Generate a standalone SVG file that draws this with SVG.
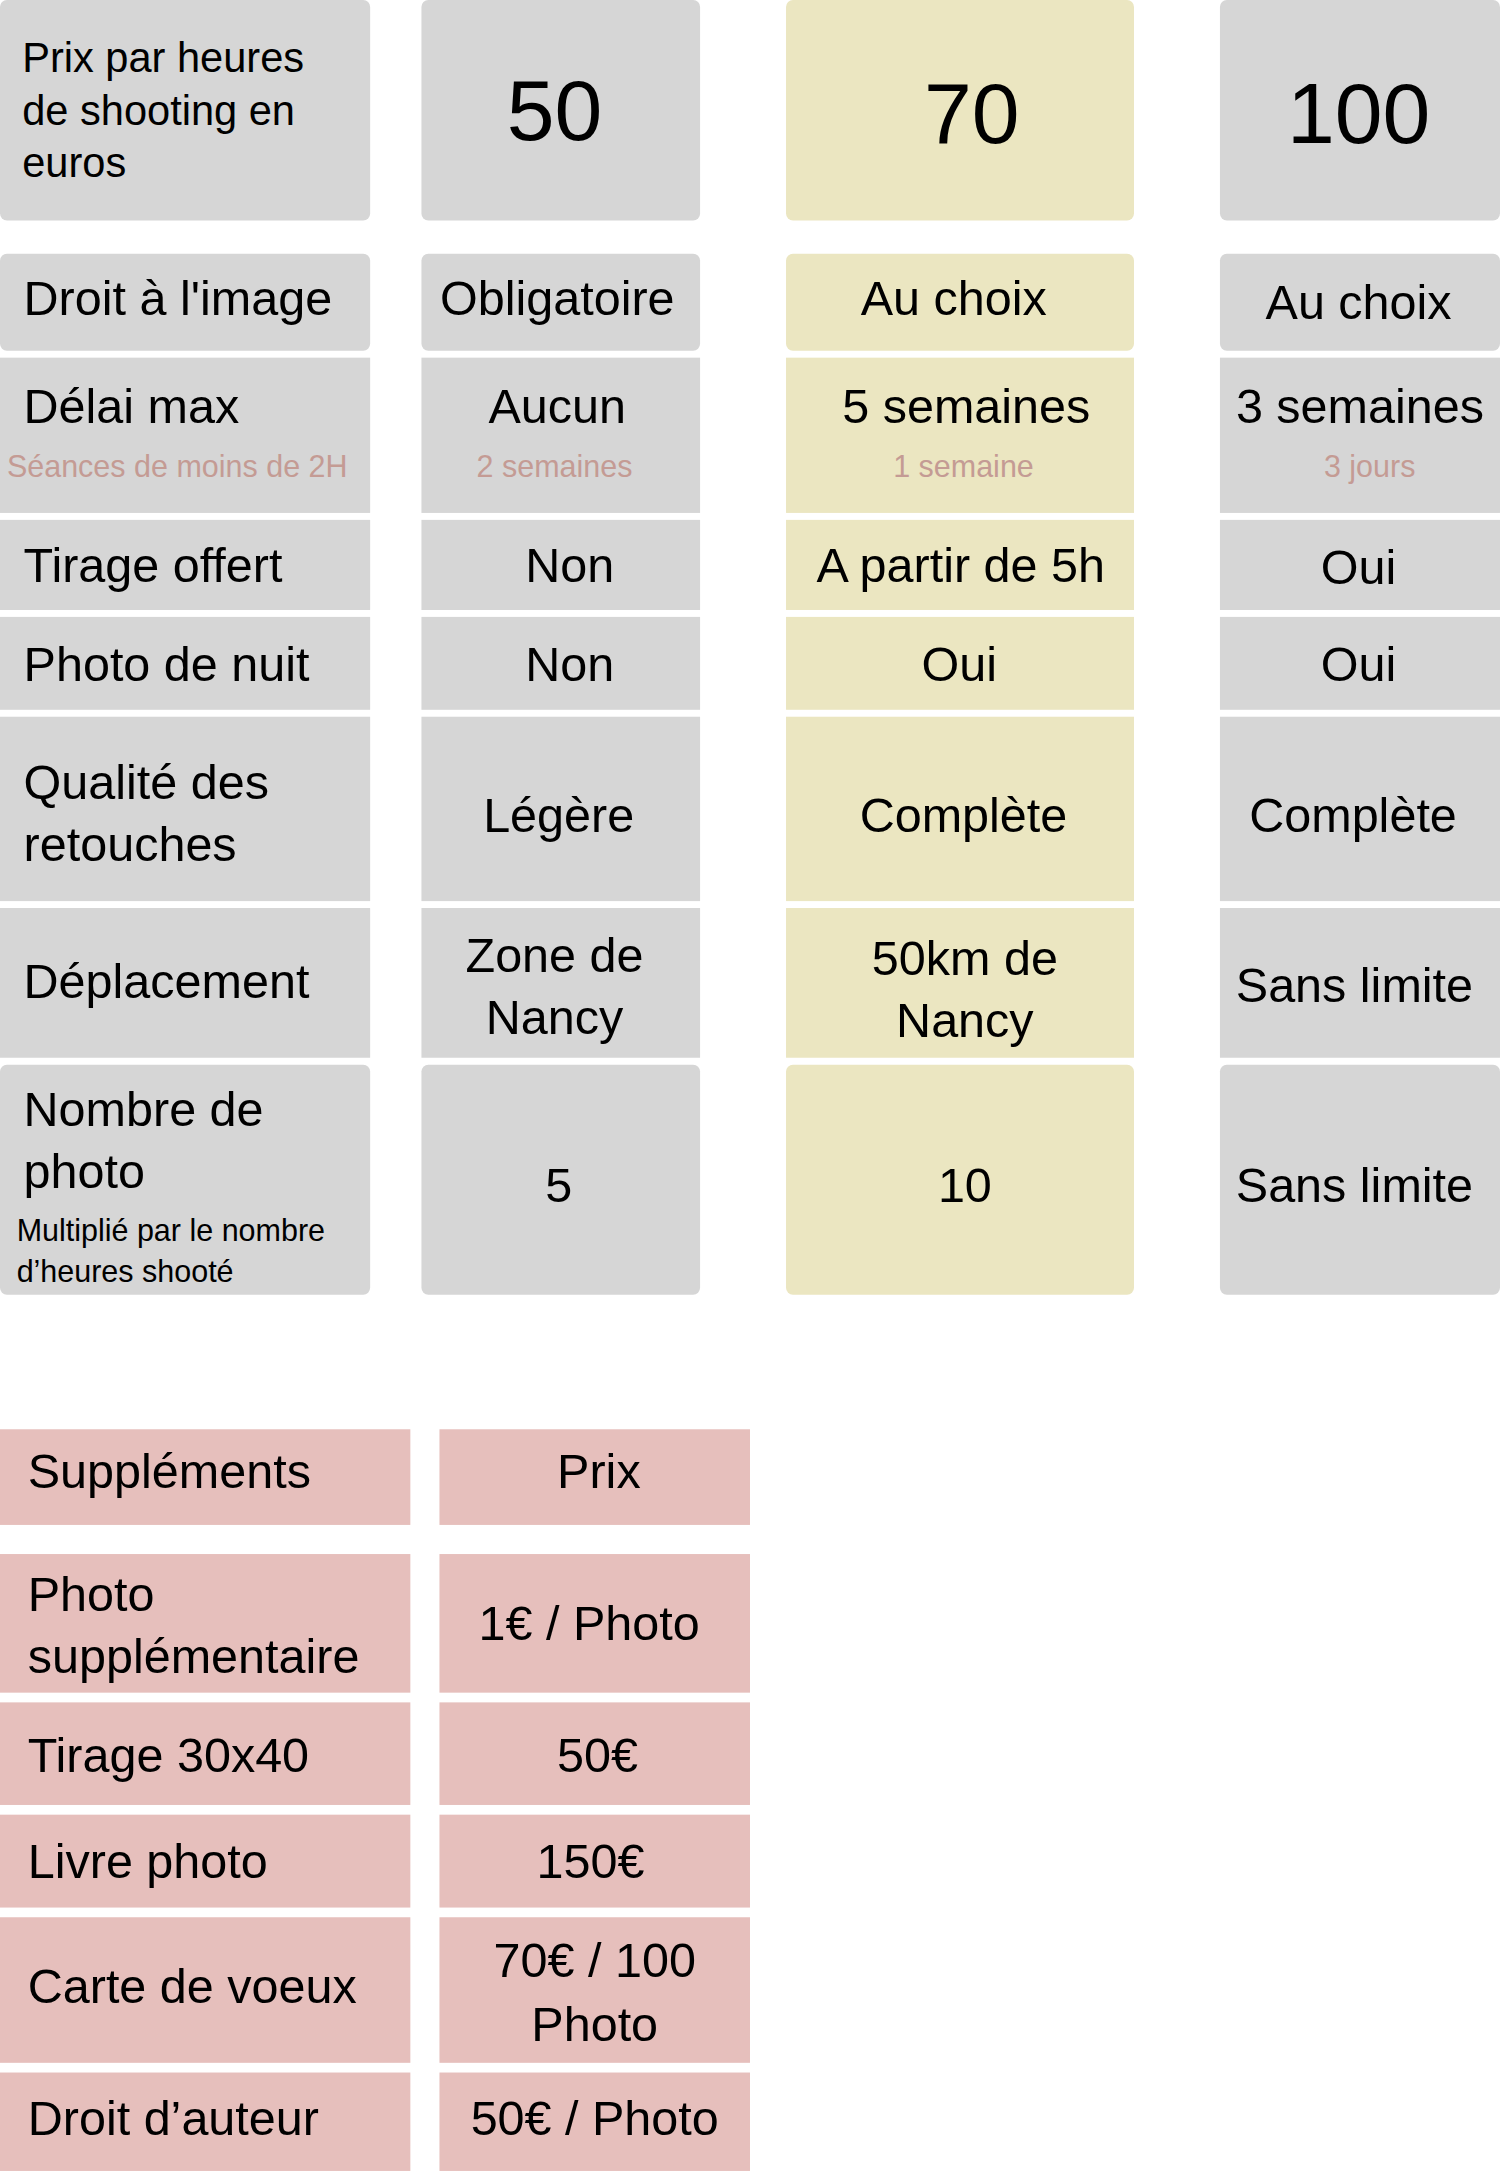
<svg xmlns="http://www.w3.org/2000/svg" width="1500" height="2174" viewBox="0 0 1500 2174">
<style>
.g{fill:#d6d6d6}.y{fill:#ebe6c1}.p{fill:#e6bfbc}
text{font-family:"Liberation Sans",Arial,sans-serif;fill:#000}
.m{font-size:35px}.c{text-anchor:middle}.s{font-size:22px;fill:#c49b94}.h{font-size:30px}.b{font-size:62px}.n{font-size:22px}
</style>
<rect width="1500" height="2174" fill="#fff"/>
<g transform="scale(1.3863)">
<g id="col1">
<rect class="g" x="0" y="0" width="267" height="159" rx="5"/>
<text class="h" x="16" y="52">Prix par heures</text><text class="h" x="16" y="90">de shooting en</text><text class="h" x="16" y="128">euros</text>
<rect class="g" x="0" y="183" width="267" height="70" rx="5"/><text class="m" x="17" y="227">Droit à l'image</text>
<rect class="g" x="0" y="258" width="267" height="112"/><text class="m" x="17" y="305">Délai max</text><text class="s" x="5" y="344">Séances de moins de 2H</text>
<rect class="g" x="0" y="375" width="267" height="65"/><text class="m" x="17" y="420">Tirage offert</text>
<rect class="g" x="0" y="445" width="267" height="67"/><text class="m" x="17" y="491">Photo de nuit</text>
<rect class="g" x="0" y="517" width="267" height="133"/><text class="m" x="17" y="576">Qualité des</text><text class="m" x="17" y="621">retouches</text>
<rect class="g" x="0" y="655" width="267" height="108"/><text class="m" x="17" y="720">Déplacement</text>
<rect class="g" x="0" y="768" width="267" height="166" rx="5"/><text class="m" x="17" y="812">Nombre de</text><text class="m" x="17" y="857">photo</text><text class="n" x="12" y="895">Multiplié par le nombre</text><text class="n" x="12" y="925">d’heures shooté</text>
</g>
<g id="col2">
<rect class="g" x="304" y="0" width="201" height="159" rx="5"/><text class="b c" x="400" y="101">50</text>
<rect class="g" x="304" y="183" width="201" height="70" rx="5"/><text class="m c" x="402" y="227">Obligatoire</text>
<rect class="g" x="304" y="258" width="201" height="112"/><text class="m c" x="402" y="305">Aucun</text><text class="s c" x="400" y="344">2 semaines</text>
<rect class="g" x="304" y="375" width="201" height="65"/><text class="m c" x="411" y="420">Non</text>
<rect class="g" x="304" y="445" width="201" height="67"/><text class="m c" x="411" y="491">Non</text>
<rect class="g" x="304" y="517" width="201" height="133"/><text class="m c" x="403" y="600">Légère</text>
<rect class="g" x="304" y="655" width="201" height="108"/><text class="m c" x="400" y="701">Zone de</text><text class="m c" x="400" y="746">Nancy</text>
<rect class="g" x="304" y="768" width="201" height="166" rx="5"/><text class="m c" x="403" y="867">5</text>
</g>
<g id="col3">
<rect class="y" x="567" y="0" width="251" height="159" rx="5"/><text class="b c" x="701" y="103">70</text>
<rect class="y" x="567" y="183" width="251" height="70" rx="5"/><text class="m c" x="688" y="227">Au choix</text>
<rect class="y" x="567" y="258" width="251" height="112"/><text class="m c" x="697" y="305">5 semaines</text><text class="s c" x="695" y="344">1 semaine</text>
<rect class="y" x="567" y="375" width="251" height="65"/><text class="m c" x="693" y="420">A partir de 5h</text>
<rect class="y" x="567" y="445" width="251" height="67"/><text class="m c" x="692" y="491">Oui</text>
<rect class="y" x="567" y="517" width="251" height="133"/><text class="m c" x="695" y="600">Complète</text>
<rect class="y" x="567" y="655" width="251" height="108"/><text class="m c" x="696" y="703">50km de</text><text class="m c" x="696" y="748">Nancy</text>
<rect class="y" x="567" y="768" width="251" height="166" rx="5"/><text class="m c" x="696" y="867">10</text>
</g>
<g id="col4">
<rect class="g" x="880" y="0" width="202" height="159" rx="5"/><text class="b c" x="980" y="103">100</text>
<rect class="g" x="880" y="183" width="202" height="70" rx="5"/><text class="m c" x="980" y="230">Au choix</text>
<rect class="g" x="880" y="258" width="202" height="112"/><text class="m c" x="981" y="305">3 semaines</text><text class="s c" x="988" y="344">3 jours</text>
<rect class="g" x="880" y="375" width="202" height="65"/><text class="m c" x="980" y="421">Oui</text>
<rect class="g" x="880" y="445" width="202" height="67"/><text class="m c" x="980" y="491">Oui</text>
<rect class="g" x="880" y="517" width="202" height="133"/><text class="m c" x="976" y="600">Complète</text>
<rect class="g" x="880" y="655" width="202" height="108"/><text class="m c" x="977" y="723">Sans limite</text>
<rect class="g" x="880" y="768" width="202" height="166" rx="5"/><text class="m c" x="977" y="867">Sans limite</text>
</g>
<g id="supp">
<rect class="p" x="0" y="1031" width="296" height="69"/><text class="m" x="20" y="1073">Suppléments</text>
<rect class="p" x="0" y="1121" width="296" height="100"/><text class="m" x="20" y="1162">Photo</text><text class="m" x="20" y="1207">supplémentaire</text>
<rect class="p" x="0" y="1228" width="296" height="74"/><text class="m" x="20" y="1278">Tirage 30x40</text>
<rect class="p" x="0" y="1309" width="296" height="67"/><text class="m" x="20" y="1355">Livre photo</text>
<rect class="p" x="0" y="1383" width="296" height="105"/><text class="m" x="20" y="1445">Carte de voeux</text>
<rect class="p" x="0" y="1495" width="296" height="71"/><text class="m" x="20" y="1540">Droit d’auteur</text>
</g>
<g id="prix">
<rect class="p" x="317" y="1031" width="224" height="69"/><text class="m c" x="432" y="1073">Prix</text>
<rect class="p" x="317" y="1121" width="224" height="100"/><text class="m c" x="425" y="1183">1€ / Photo</text>
<rect class="p" x="317" y="1228" width="224" height="74"/><text class="m c" x="431" y="1278">50€</text>
<rect class="p" x="317" y="1309" width="224" height="67"/><text class="m c" x="426" y="1355">150€</text>
<rect class="p" x="317" y="1383" width="224" height="105"/><text class="m c" x="429" y="1426">70€ / 100</text><text class="m c" x="429" y="1472">Photo</text>
<rect class="p" x="317" y="1495" width="224" height="71"/><text class="m c" x="429" y="1540">50€ / Photo</text>
</g>
<g id="connectors"/>
</g>
</svg>
